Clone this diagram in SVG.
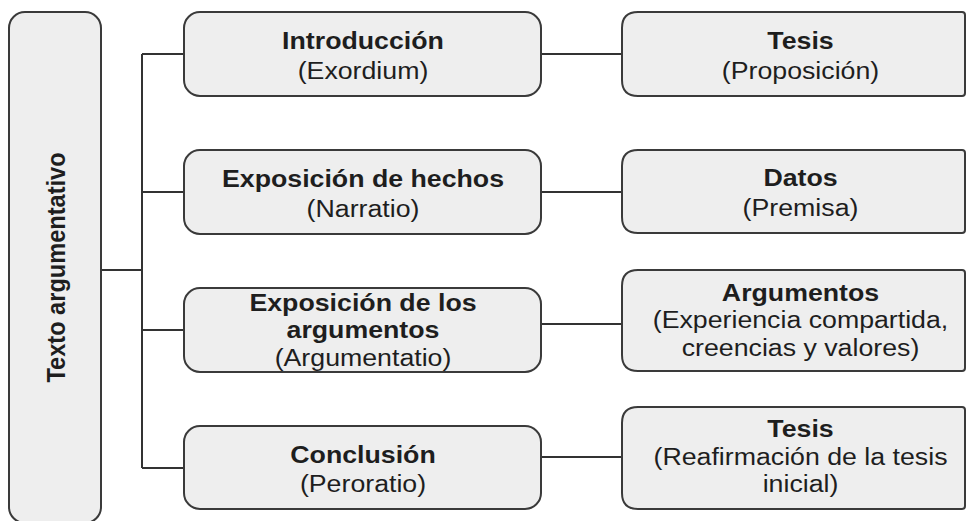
<svg xmlns="http://www.w3.org/2000/svg" width="966" height="521" viewBox="0 0 966 521">
<style>
.box{fill:#eeeeee;stroke:#3a3a3a;stroke-width:2}
.conn{fill:none;stroke:#333333;stroke-width:2}
text{font-family:"Liberation Sans",Arial,Helvetica,sans-serif;font-size:24.3px;fill:#1e1e1e;text-anchor:middle}
.b{font-weight:bold}
</style>
<rect width="966" height="521" fill="#ffffff"/>
<g id="connectors">
<path class="conn" d="M101,270 H142 M142,54 V468 M142,54 H184 M142,192 H184 M142,330 H184 M142,468 H184"/>
<path class="conn" d="M541,54 H622 M541,192 H622 M541,324 H622 M541,457 H622"/>
</g>
<g id="n-texto">
<rect class="box" x="9" y="12" width="92" height="511" rx="16"/>
<text class="b" transform="translate(65,267.5) scale(1.1,1) rotate(-90)" style="font-size:23.6px" x="0" y="0">Texto argumentativo</text>
</g>
<g id="n-introduccion">
<rect class="box" x="184" y="12" width="357" height="84" rx="16"/>
<g transform="translate(363,0) scale(1.1,1)">
<text class="b" x="0" y="49">Introducción</text>
<text x="0" y="79">(Exordium)</text>
</g>
</g>
<g id="n-exposicion-hechos">
<rect class="box" x="184" y="150" width="357" height="84" rx="16"/>
<g transform="translate(363,0) scale(1.1,1)">
<text class="b" x="0" y="187">Exposición de hechos</text>
<text x="0" y="217">(Narratio)</text>
</g>
</g>
<g id="n-exposicion-argumentos">
<rect class="box" x="184" y="288" width="357" height="84" rx="16"/>
<g transform="translate(363,0) scale(1.1,1)">
<text class="b" x="0" y="311">Exposición de los</text>
<text class="b" x="0" y="338.5">argumentos</text>
<text x="0" y="366">(Argumentatio)</text>
</g>
</g>
<g id="n-conclusion">
<rect class="box" x="184" y="426" width="357" height="83" rx="16"/>
<g transform="translate(363,0) scale(1.1,1)">
<text class="b" x="0" y="463">Conclusión</text>
<text x="0" y="492">(Peroratio)</text>
</g>
</g>
<g id="n-tesis">
<path class="box" d="M638,12 H962 Q965,12 965,15 V93 Q965,96 962,96 H638 Q622,96 622,80 V28 Q622,12 638,12 Z"/>
<g transform="translate(800.5,0) scale(1.1,1)">
<text class="b" x="0" y="49">Tesis</text>
<text x="0" y="79">(Proposición)</text>
</g>
</g>
<g id="n-datos">
<path class="box" d="M638,150 H962 Q965,150 965,153 V230 Q965,233 962,233 H638 Q622,233 622,217 V166 Q622,150 638,150 Z"/>
<g transform="translate(800.5,0) scale(1.1,1)">
<text class="b" x="0" y="186">Datos</text>
<text x="0" y="216">(Premisa)</text>
</g>
</g>
<g id="n-argumentos">
<path class="box" d="M638,270 H962 Q965,270 965,273 V368 Q965,371 962,371 H638 Q622,371 622,355 V286 Q622,270 638,270 Z"/>
<g transform="translate(800.5,0) scale(1.1,1)">
<text class="b" x="0" y="301">Argumentos</text>
<text x="0" y="328.5">(Experiencia compartida,</text>
<text x="0" y="356">creencias y valores)</text>
</g>
</g>
<g id="n-tesis-final">
<path class="box" d="M638,407 H962 Q965,407 965,410 V506 Q965,509 962,509 H638 Q622,509 622,493 V423 Q622,407 638,407 Z"/>
<g transform="translate(800.5,0) scale(1.1,1)">
<text class="b" x="0" y="437">Tesis</text>
<text x="0" y="465">(Reafirmación de la tesis</text>
<text x="0" y="492.5">inicial)</text>
</g>
</g>
</svg>
